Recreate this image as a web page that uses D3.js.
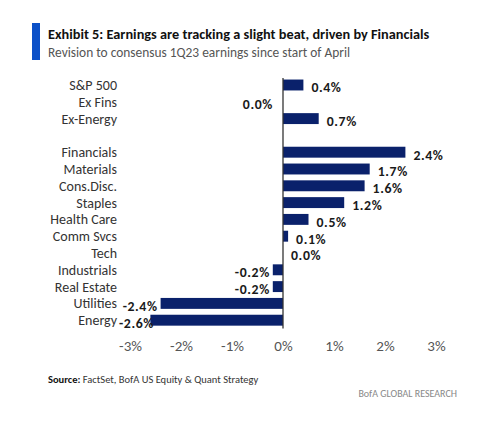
<!DOCTYPE html>
<html><head><meta charset="utf-8">
<script src="https://cdn.jsdelivr.net/npm/d3@7"></script>
<style>body{margin:0;background:#fff}svg{display:block}</style>
</head><body>
<svg id="c" width="500" height="429"></svg>
<script>
const summaryCats = ["S&P 500", "Ex Fins", "Ex-Energy"];
const summaryVals = [0.4, 0.0, 0.7];
const sectorCats = ["Financials","Materials","Cons.Disc.","Staples","Health Care","Comm Svcs","Tech","Industrials","Real Estate","Utilities","Energy"];
const sectorVals = [2.4, 1.7, 1.6, 1.2, 0.5, 0.1, 0.0, -0.2, -0.2, -2.4, -2.6];
const tickVals = [-3, -2, -1, 0, 1, 2, 3];
const title = "Exhibit 5: Earnings are tracking a slight beat, driven by Financials";
const subtitle = "Revision to consensus 1Q23 earnings since start of April";

const data = summaryCats.map((c,i)=>({c, v: summaryVals[i]}))
  .concat(sectorCats.map((c,i)=>({c, v: sectorVals[i]})));
const domain = [...summaryCats, "_gap", ...sectorCats];

const svg = d3.select("#c");
const font = "Carlito, Lato, 'Open Sans', sans-serif";
const navy = "#0a216b";

// header
svg.append("rect").attr("x",32).attr("y",23).attr("width",8).attr("height",37).attr("fill","#0b50c8");
svg.append("text").attr("x",48).attr("y",39).attr("font-family",font).attr("font-weight","bold")
  .attr("font-size",14.3).attr("fill","#111").text(title);
svg.append("text").attr("x",48).attr("y",56.5).attr("font-family",font)
  .attr("font-size",13.4).attr("fill","#555").text(subtitle);

const x = d3.scaleLinear().domain([-3,3]).range([130,436]);
const y = d3.scaleBand().domain(domain).range([76.6,328.6]).paddingInner(0.35).paddingOuter(0.175);

// bars
svg.append("g").selectAll("rect").data(data).join("rect")
  .attr("x", d=>x(Math.min(0,d.v)))
  .attr("y", d=>y(d.c))
  .attr("width", d=>Math.abs(x(d.v)-x(0)))
  .attr("height", y.bandwidth())
  .attr("fill", navy);

// zero line
svg.append("line").attr("x1",x(0)).attr("x2",x(0)).attr("y1",78).attr("y2",328.6)
  .attr("stroke","#333").attr("stroke-width",1.3);

// category labels
svg.append("g").selectAll("text").data(data).join("text")
  .attr("x",117).attr("y",d=>y(d.c)+y.bandwidth()/2).attr("dy","0.35em")
  .attr("text-anchor","end").attr("font-family",font).attr("font-size",14).attr("fill","#333")
  .text(d=>d.c);

// value labels
svg.append("g").selectAll("text").data(data).join("text")
  .attr("x", d=>{
    if (d.v > 0 || d.c === "Tech") return x(Math.max(0,d.v)) + 8;
    if (d.v === 0) return x(0) - 10;
    return Math.max(x(d.v) - 3, 154);
  })
  .attr("y",d=>y(d.c)+y.bandwidth()/2+2.5).attr("dy","0.35em")
  .attr("text-anchor", d=> (d.v > 0 || d.c === "Tech") ? "start" : "end")
  .attr("font-family",font).attr("font-weight","bold").attr("font-size",13.8)
  .attr("letter-spacing",0.6).attr("fill","#1a1a1a")
  .text(d=>d.v.toFixed(1)+"%");

// x axis ticks
const xAxis = d3.axisBottom(x).tickValues(tickVals).tickSize(0).tickFormat(d=>d+"%");
const ax = svg.append("g").attr("transform","translate(0,337)").call(xAxis);
ax.select(".domain").remove();
ax.selectAll("text").attr("font-family",font).attr("font-size",15).attr("fill","#555");

// footer
const src = svg.append("text").attr("x",48).attr("y",383).attr("font-family",font).attr("font-size",10.5).attr("fill","#333");
src.append("tspan").attr("font-weight","bold").attr("fill","#111").text("Source:");
src.append("tspan").text("  FactSet, BofA US Equity & Quant Strategy");
svg.append("text").attr("x",457).attr("y",397).attr("text-anchor","end").attr("font-family",font)
  .attr("font-size",10).attr("fill","#888").text("BofA GLOBAL RESEARCH");
</script>
</body></html>
